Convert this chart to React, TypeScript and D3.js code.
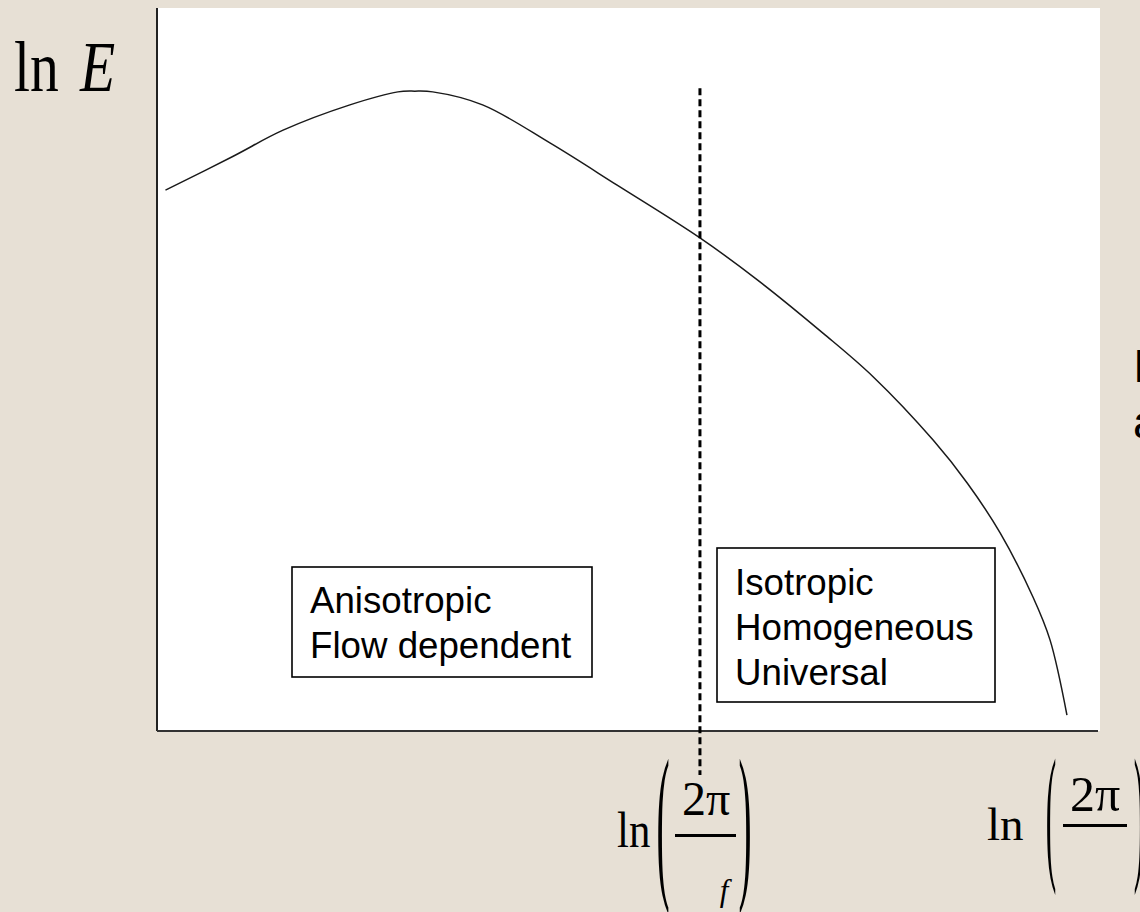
import React, { useEffect } from "react";
import * as d3 from "d3";

// Energy spectrum sketch: ln E against ln k (arbitrary units)
const lnK = [0.9, 8.1, 13.4, 20.5, 25.6, 27.4, 29.3, 34.6, 41.8, 48.9, 57.7, 63.8, 70.8, 76.1, 82.5, 86.1, 89.6, 93.1, 94.9, 96.7];
const lnE = [74.8, 79.5, 83.1, 86.6, 88.4, 88.5, 88.4, 86.6, 81.3, 75.5, 68.2, 62.4, 55.0, 49.0, 40.2, 34.3, 27.4, 18.5, 12.6, 2.2];

// Flow-scale cutoff marker (in ln k units) and its vertical extent (ln E units)
const cutoffLnK = 57.7;
const cutoffSpan = [-6.1, 88.9];

const anisoLines = ["Anisotropic", "Flow dependent"];
const isoLines = ["Isotropic", "Homogeneous", "Universal"];
const edgeLines = ["I", "a"];

const W = 1140;
const H = 912;
const SANS = "'Liberation Sans', Arial, Helvetica, sans-serif";
const SERIF = "'Liberation Serif', 'Times New Roman', Times, serif";
const BG = "#e7e0d5";
const BOX_FONT = 36.7;

const x = d3.scaleLinear().domain([0, 100]).range([157, 1098]);
const y = d3.scaleLinear().domain([0, 100]).range([731, 8]);

const spectrum = d3
  .line<number>()
  .x((_, i) => x(lnK[i]))
  .y((d) => y(d))
  .curve(d3.curveCatmullRom.alpha(0.5));

function Paren({ cx, top, bottom, ch, sx }: { cx: number; top: number; bottom: number; ch: string; sx: number }) {
  const fs = (bottom - top) / 0.853;
  const base = bottom - 0.177 * fs;
  return (
    <text
      transform={`translate(${cx},${base}) scale(${sx},1)`}
      fontFamily={SERIF}
      fontSize={fs}
      textAnchor="middle"
      fill="#000"
    >
      {ch}
    </text>
  );
}

export default function App() {
  useEffect(() => {
    document.body.style.margin = "0";
    document.body.style.overflow = "hidden";
  }, []);

  return (
    <svg
      width={W}
      height={H}
      viewBox={`0 0 ${W} ${H}`}
      style={{ position: "absolute", left: 0, top: 0, display: "block" }}
    >
      <rect x={0} y={0} width={W} height={H} fill={BG} />
      {/* plot panel */}
      <rect x={156} y={8} width={944} height={723} fill="#fff" />

      {/* axes */}
      <line x1={x(0)} y1={8} x2={x(0)} y2={y(0)} stroke="#222" strokeWidth={2} />
      <line x1={x(0)} y1={y(0)} x2={x(100)} y2={y(0)} stroke="#333" strokeWidth={2.2} />

      {/* spectrum */}
      <path d={spectrum(lnE) || ""} fill="none" stroke="#1a1a1a" strokeWidth={1.5} />

      {/* cutoff marker */}
      <line
        x1={x(cutoffLnK)}
        x2={x(cutoffLnK)}
        y1={y(cutoffSpan[1])}
        y2={y(cutoffSpan[0])}
        stroke="#000"
        strokeWidth={3}
        strokeDasharray="7 4"
      />

      {/* region boxes */}
      <rect x={292} y={567} width={300} height={110} fill="#fff" stroke="#000" strokeWidth={1.6} />
      {anisoLines.map((t, i) => (
        <text key={t} x={310} y={613 + i * 45} fontFamily={SANS} fontSize={BOX_FONT} fill="#000">
          {t}
        </text>
      ))}
      <rect x={717} y={548} width={278} height={154} fill="#fff" stroke="#000" strokeWidth={1.6} />
      {isoLines.map((t, i) => (
        <text key={t} x={735} y={595 + i * 45} fontFamily={SANS} fontSize={BOX_FONT} fill="#000">
          {t}
        </text>
      ))}
      {edgeLines.map((t, i) => (
        <text key={t} x={1133} y={382 + i * 56} fontFamily={SANS} fontSize={46} fill="#000">
          {t}
        </text>
      ))}

      {/* y-axis title */}
      <text transform="translate(14,91) scale(0.8,1)" fontFamily={SERIF} fontSize={72} fill="#000">
        ln
      </text>
      <text
        transform="translate(80,91) scale(0.8,1)"
        fontFamily={SERIF}
        fontSize={72}
        fontStyle="italic"
        fill="#000"
      >
        E
      </text>

      {/* ln(2π/ℓ_f) under the cutoff */}
      <text transform="translate(617,847) scale(0.84,1)" fontFamily={SERIF} fontSize={51} fill="#000">
        ln
      </text>
      <Paren cx={663} top={762} bottom={908} ch="(" sx={0.23} />
      <text x={706} y={815} fontFamily={SERIF} fontSize={48} textAnchor="middle" fill="#000">
        2π
      </text>
      <rect x={675} y={834} width={61} height={3} fill="#000" />
      <text x={724} y={901} fontFamily={SERIF} fontSize={31} fontStyle="italic" textAnchor="middle" fill="#000">
        f
      </text>
      <Paren cx={745} top={762} bottom={908} ch=")" sx={0.23} />

      {/* ln(2π/η) at the right end */}
      <text x={987} y={840} fontFamily={SERIF} fontSize={47} fill="#000">
        ln
      </text>
      <Paren cx={1051} top={762} bottom={890} ch="(" sx={0.21} />
      <text x={1095} y={811} fontFamily={SERIF} fontSize={50} textAnchor="middle" fill="#000">
        2π
      </text>
      <rect x={1063} y={824} width={64} height={3} fill="#000" />
      <Paren cx={1139} top={762} bottom={890} ch=")" sx={0.21} />
    </svg>
  );
}
